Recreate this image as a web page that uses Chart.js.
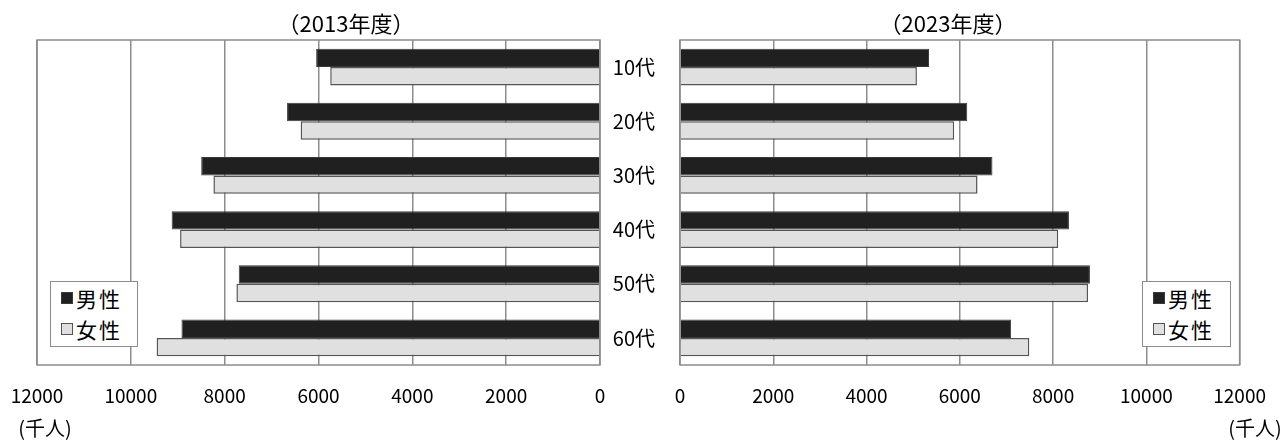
<!DOCTYPE html>
<html><head><meta charset="utf-8">
<script src="https://cdn.jsdelivr.net/npm/chart.js@4/dist/chart.umd.min.js"></script>
<style>
html,body{margin:0;padding:0;background:#fff;}
body{width:1285px;height:443px;overflow:hidden;position:relative;font-family:"Noto Sans CJK JP","Noto Sans",sans-serif;color:#000;}
canvas{position:absolute;top:0;}
#c1{left:0;}
#c2{left:600px;}
.t{position:absolute;white-space:nowrap;transform:translate(-50%,-50%);line-height:1.2;}
.legend{position:absolute;box-sizing:border-box;border:1.5px solid #8c8c8c;background:#fff;padding:0 0 0 10px;font-size:21px;letter-spacing:2px;}
.li{display:flex;align-items:center;height:31px;}
.sw{display:inline-block;width:12px;height:12px;box-sizing:border-box;border:1.5px solid #333;margin-right:3px;}
</style>
</head><body>
<canvas id="c1" width="640" height="443"></canvas>
<canvas id="c2" width="685" height="443"></canvas>
<div class="t" style="left:346px;top:22px;font-size:22px">（2013年度）</div>
<div class="t" style="left:948px;top:22px;font-size:22px">（2023年度）</div>
<div class="t" style="left:45px;top:428px;font-size:20px">(千人)</div>
<div class="t" style="left:1255px;top:428px;font-size:20px">(千人)</div>
<div class="legend" id="lg1" style="left:50px;top:281px;width:88px;height:66px"></div>
<div class="legend" id="lg2" style="left:1142px;top:281px;width:89px;height:66px"></div>
<script>
const categories = ['10代','20代','30代','40代','50代','60代'];
const seriesNames = ['男性','女性'];
const male2013 = [6050, 6670, 8500, 9130, 7700, 8920];
const female2013 = [5750, 6380, 8240, 8950, 7750, 9450];
const male2023 = [5340, 6160, 6700, 8340, 8790, 7100];
const female2023 = [5080, 5880, 6380, 8110, 8750, 7490];
const xTickValues = [0, 2000, 4000, 6000, 8000, 10000, 12000];

const FONT = '"Noto Sans CJK JP","Noto Sans",sans-serif';
const MALE_FILL = '#202020', MALE_BORDER = '#3a3a3a';
const FEMALE_FILL = '#e0e0e0', FEMALE_BORDER = '#555555';
const GRID = '#8c8c8c';

const framePlugin = {
  id: 'frame',
  afterDatasetsDraw(chart) {
    const {ctx, chartArea: a} = chart;
    ctx.save();
    ctx.strokeStyle = GRID;
    ctx.lineWidth = 1.5;
    ctx.strokeRect(a.left, a.top, a.right - a.left, a.bottom - a.top);
    ctx.restore();
  }
};

function datasets(m, f) {
  return [
    {label: seriesNames[0], data: m, backgroundColor: MALE_FILL, borderColor: MALE_BORDER, borderWidth: 1, categoryPercentage: 0.68, barPercentage: 1},
    {label: seriesNames[1], data: f, backgroundColor: FEMALE_FILL, borderColor: FEMALE_BORDER, borderWidth: 1.5, categoryPercentage: 0.68, barPercentage: 1}
  ];
}

function xScale(reverse) {
  return {
    type: 'linear', min: xTickValues[0], max: xTickValues[xTickValues.length - 1], reverse: reverse,
    afterBuildTicks(s) { s.ticks = xTickValues.map(v => ({value: v})); },
    afterFit(s) { s.height = 78; },
    ticks: {font: {family: FONT, size: 19}, color: '#000', padding: 19, maxRotation: 0, autoSkip: false,
            callback: v => String(v)},
    grid: {color: GRID, lineWidth: 1.5, drawTicks: false},
    border: {display: false}
  };
}

Chart.defaults.font.family = FONT;

const chart1 = new Chart(document.getElementById('c1'), {
  type: 'bar',
  data: {labels: categories, datasets: datasets(male2013, female2013)},
  options: {
    indexAxis: 'y', responsive: false, animation: false, devicePixelRatio: 1,
    layout: {padding: {left: 37, right: 40, top: 40, bottom: 0}},
    plugins: {legend: {display: false}, tooltip: {enabled: false}},
    scales: {x: xScale(true), y: {display: false}}
  },
  plugins: [framePlugin]
});

const chart2 = new Chart(document.getElementById('c2'), {
  type: 'bar',
  data: {labels: categories, datasets: datasets(male2023, female2023)},
  options: {
    indexAxis: 'y', responsive: false, animation: false, devicePixelRatio: 1,
    layout: {padding: {left: 0, right: 43, top: 40, bottom: 0}},
    plugins: {legend: {display: false}, tooltip: {enabled: false}},
    scales: {
      x: xScale(false),
      y: {
        position: 'left',
        afterFit(s) { s.width = 80; },
        ticks: {font: {family: FONT, size: 20}, color: '#000', padding: 25},
        grid: {display: false, drawTicks: false},
        border: {display: false}
      }
    }
  },
  plugins: [framePlugin]
});

function buildLegend(chart, el) {
  chart.data.datasets.forEach(ds => {
    const row = document.createElement('div');
    row.className = 'li';
    const sw = document.createElement('span');
    sw.className = 'sw';
    sw.style.background = ds.backgroundColor;
    sw.style.borderColor = ds.borderColor;
    row.appendChild(sw);
    row.appendChild(document.createTextNode(ds.label));
    el.appendChild(row);
  });
}
buildLegend(chart1, document.getElementById('lg1'));
buildLegend(chart2, document.getElementById('lg2'));
</script>
</body></html>
